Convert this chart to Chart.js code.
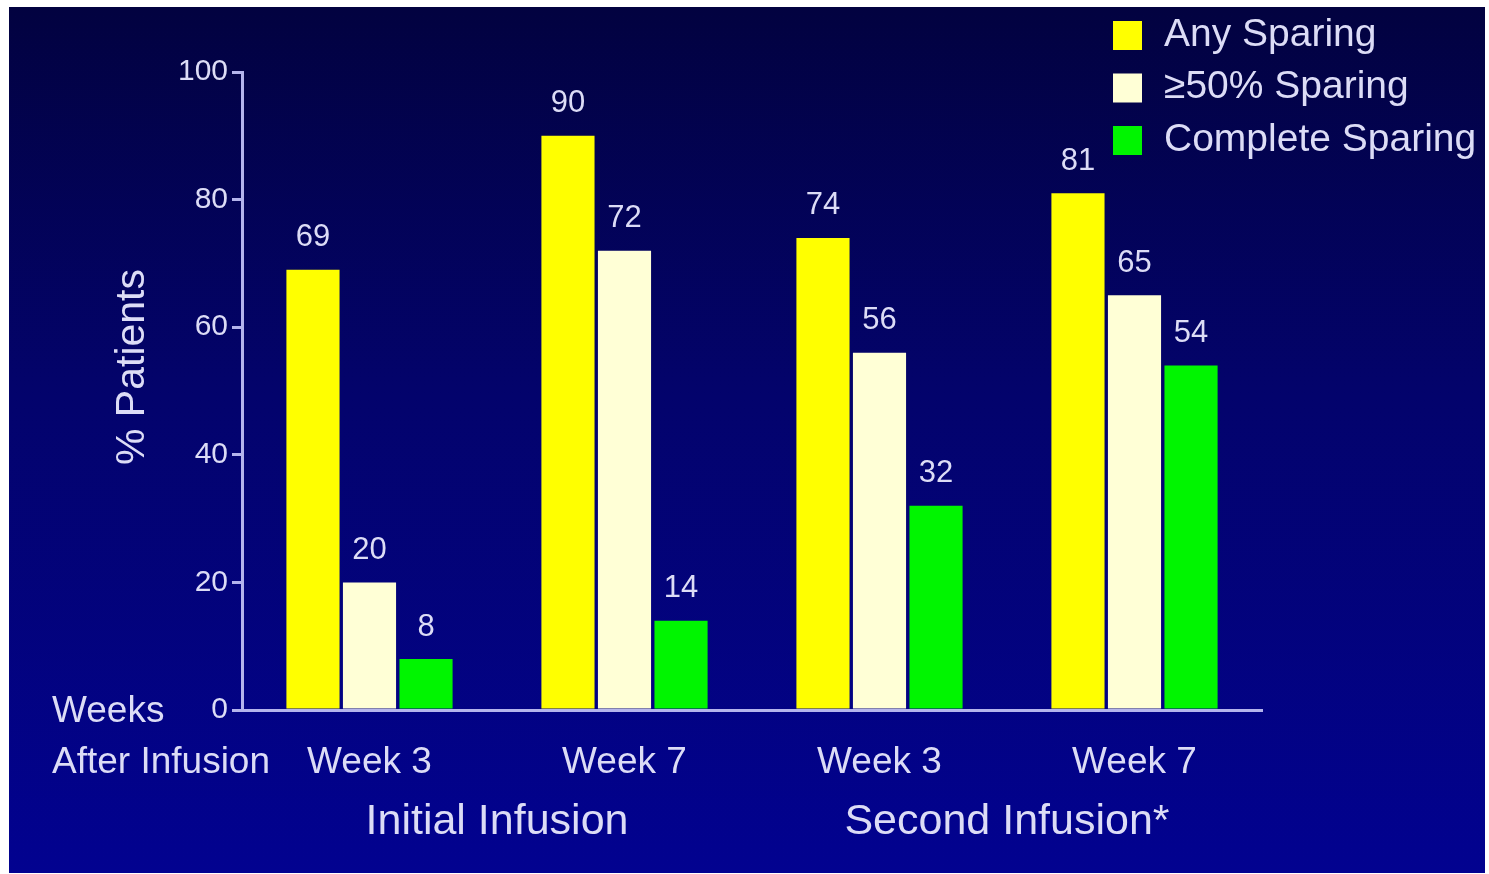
<!DOCTYPE html>
<html>
<head>
<meta charset="utf-8">
<title>Steroid Sparing After Infusion</title>
<script src="https://cdn.jsdelivr.net/npm/chart.js@4/dist/chart.umd.min.js"></script>
<style>
  html, body { margin: 0; padding: 0; background: #ffffff; }
  #wrap { position: relative; width: 1489px; height: 874px; }
  canvas { display: block; }
</style>
</head>
<body>
<div id="wrap"><canvas id="chart" width="1489" height="874"></canvas></div>
<script>
// Categories and series
const categories = ['Week 3', 'Week 7', 'Week 3', 'Week 7'];
const groupLabels = ['Initial Infusion', 'Second Infusion*'];
const rowLabels = ['Weeks', 'After Infusion'];
const yAxisTitle = '% Patients';
const seriesNames = ['Any Sparing', '\u226550% Sparing', 'Complete Sparing'];
const anySparing = [69, 90, 74, 81];
const halfSparing = [20, 72, 56, 65];
const completeSparing = [8, 14, 32, 54];
const yTickValues = [0, 20, 40, 60, 80, 100];

const seriesColors = ['#ffff00', '#ffffd6', '#00f500'];
const textColor = '#dcdcf6';
const axisColor = '#b4b4ec';
const fontFamily = '"Liberation Sans", Arial, Helvetica, sans-serif';

// Navy gradient panel inside a thin white frame
const panelBackground = {
  id: 'panelBackground',
  beforeDraw(chart) {
    const ctx = chart.ctx;
    ctx.save();
    ctx.fillStyle = '#ffffff';
    ctx.fillRect(0, 0, chart.width, chart.height);
    const x0 = 9, y0 = 7, x1 = chart.width - 4, y1 = chart.height - 1;
    const g = ctx.createLinearGradient(0, y0, 0, y1);
    g.addColorStop(0, '#020240');
    g.addColorStop(0.45, '#03036c');
    g.addColorStop(1, '#020290');
    ctx.fillStyle = g;
    ctx.fillRect(x0, y0, x1 - x0, y1 - y0);
    ctx.restore();
  }
};

// Value labels above each bar
const valueLabels = {
  id: 'valueLabels',
  afterDatasetsDraw(chart) {
    const ctx = chart.ctx;
    ctx.save();
    ctx.font = '31px ' + fontFamily;
    ctx.fillStyle = textColor;
    ctx.textAlign = 'center';
    ctx.textBaseline = 'middle';
    chart.data.datasets.forEach((ds, i) => {
      chart.getDatasetMeta(i).data.forEach((bar, j) => {
        ctx.fillText(String(ds.data[j]), bar.x, bar.y - 32);
      });
    });
    ctx.restore();
  }
};

// Legend stacked in the top-right corner
const cornerLegend = {
  id: 'cornerLegend',
  afterDraw(chart) {
    const ctx = chart.ctx;
    ctx.save();
    ctx.font = '39px ' + fontFamily;
    ctx.textBaseline = 'middle';
    ctx.textAlign = 'left';
    chart.data.datasets.forEach((ds, i) => {
      const cy = 35 + i * 52.5;
      ctx.fillStyle = ds.backgroundColor;
      ctx.fillRect(1113, cy - 14, 29, 29);
      ctx.fillStyle = textColor;
      ctx.fillText(ds.label, 1164, cy);
    });
    ctx.restore();
  }
};

// Axis title, row captions on the left and infusion group captions
const axisCaptions = {
  id: 'axisCaptions',
  afterDraw(chart) {
    const ctx = chart.ctx;
    const xs = chart.scales.x;
    const bottom = chart.chartArea.bottom;
    ctx.save();
    ctx.fillStyle = textColor;
    ctx.textBaseline = 'middle';

    ctx.save();
    ctx.translate(133, 367);
    ctx.rotate(-Math.PI / 2);
    ctx.font = '41px ' + fontFamily;
    ctx.textAlign = 'center';
    ctx.fillText(yAxisTitle, 0, 0);
    ctx.restore();

    ctx.font = '37px ' + fontFamily;
    ctx.textAlign = 'left';
    ctx.fillText(rowLabels[0], 52, bottom + 2);
    ctx.fillText(rowLabels[1], 52, bottom + 53);
    ctx.font = '43px ' + fontFamily;
    ctx.textAlign = 'center';
    groupLabels.forEach((label, k) => {
      const cx = (xs.getPixelForValue(2 * k) + xs.getPixelForValue(2 * k + 1)) / 2;
      ctx.fillText(label, cx, bottom + 112);
    });
    ctx.restore();
  }
};

const datasets = [anySparing, halfSparing, completeSparing].map((values, i) => ({
  label: seriesNames[i],
  data: values,
  backgroundColor: seriesColors[i],
  borderWidth: 0,
  barPercentage: 0.94,
  categoryPercentage: 0.665
}));

new Chart(document.getElementById('chart'), {
  type: 'bar',
  data: { labels: categories, datasets },
  plugins: [panelBackground, valueLabels, cornerLegend, axisCaptions],
  options: {
    responsive: false,
    animation: false,
    events: [],
    layout: { padding: { left: 0, right: 227, top: 72, bottom: 0 } },
    plugins: { legend: { display: false }, tooltip: { enabled: false } },
    scales: {
      x: {
        grid: { display: false, drawTicks: false },
        border: { display: true, color: axisColor, width: 3 },
        ticks: {
          color: textColor,
          font: { family: fontFamily, size: 37 },
          padding: 31,
          maxRotation: 0
        },
        afterFit(scale) { scale.height = 164; }
      },
      y: {
        min: 0,
        max: 100,
        afterBuildTicks(scale) { scale.ticks = yTickValues.map(v => ({ value: v })); },
        grid: { drawOnChartArea: false, drawTicks: true, tickLength: 10, color: axisColor, lineWidth: 3 },
        border: { display: true, color: axisColor, width: 3 },
        ticks: {
          color: textColor,
          font: { family: fontFamily, size: 30 },
          padding: 4
        },
        afterFit(scale) { scale.width = 242; }
      }
    }
  }
});
</script>
</body>
</html>
